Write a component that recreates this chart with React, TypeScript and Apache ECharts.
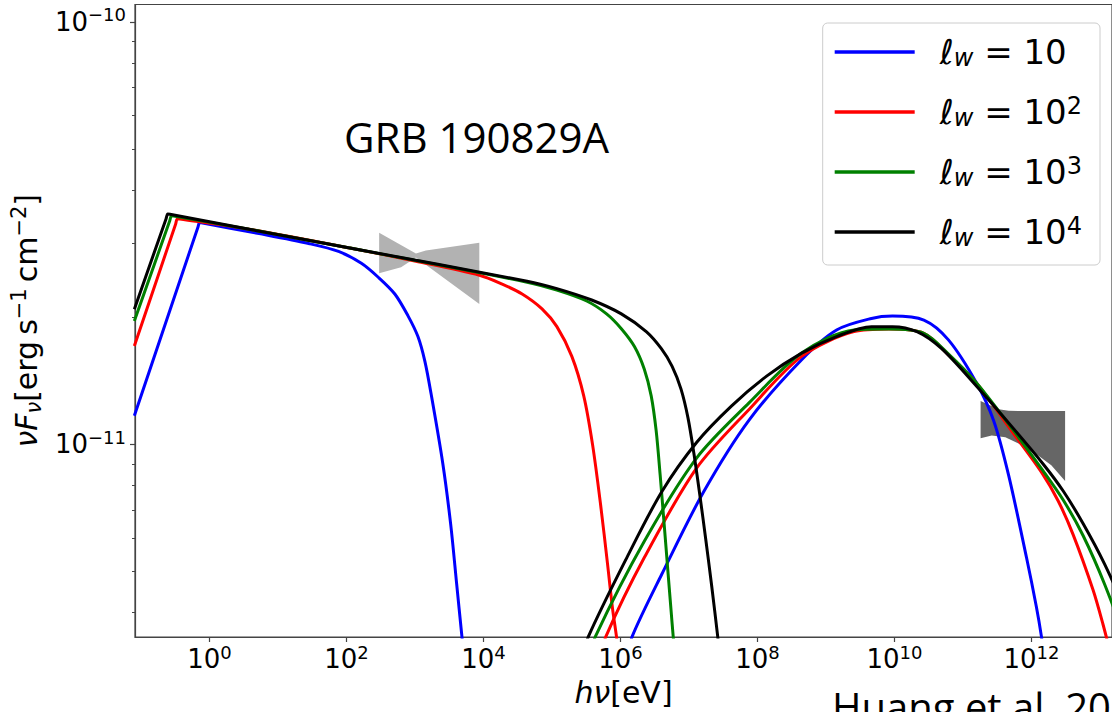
import React, { useEffect, useRef } from 'react';
import * as echarts from 'echarts';

// ---- axis ranges & ticks ----
const xMin = 0.0818;
const xMax = 1.5e13;
const yMin = 3.503e-12;
const yMax = 1.099e-10;

const xTicks = [1, 1e2, 1e4, 1e6, 1e8, 1e10, 1e12];
const yTicks = [1e-11, 1e-10];
const yMinorTicks = [4e-12, 5e-12, 6e-12, 7e-12, 8e-12, 9e-12, 2e-11, 3e-11, 4e-11, 5e-11, 6e-11, 7e-11, 8e-11, 9e-11];

// ---- series meta ----
const seriesNames = ['ℓw = 10', 'ℓw = 10^2', 'ℓw = 10^3', 'ℓw = 10^4'];
const legendExp = ['', '2', '3', '4'];
const seriesColors = ['#0000ff', '#ff0000', '#008000', '#000000'];

// ---- synchrotron components [E (eV), nuFnu (erg s^-1 cm^-2)] ----
const syncBlue: [number, number][] = [
  [0.08, 1.17e-11], [0.68, 3.27e-11], [0.716, 3.35e-11], [0.76, 3.345e-11],
  [5.3, 3.154e-11], [28.1, 2.988e-11], [76.6, 2.862e-11], [165, 2.683e-11],
  [291, 2.487e-11], [508, 2.27e-11], [792, 2.015e-11], [1105, 1.8e-11],
  [1396, 1.573e-11], [1722, 1.316e-11], [2545, 9.03e-12], [3327, 6.46e-12],
  [4064, 4.67e-12], [4797, 3.57e-12], [5129, 3.21e-12],
];
const syncRed: [number, number][] = [
  [0.08, 1.71e-11], [0.32, 3.32e-11], [0.34, 3.42e-11], [0.37, 3.415e-11],
  [3.8, 3.23e-11], [107, 2.92e-11], [1033, 2.713e-11], [8750, 2.514e-11],
  [1.88e4, 2.395e-11], [3.67e4, 2.27e-11], [7.16e4, 2.093e-11], [1.18e5, 1.9e-11],
  [1.95e5, 1.616e-11], [2.91e5, 1.303e-11], [3.93e5, 9.95e-12], [5.13e5, 7.2e-12],
  [6.48e5, 5.21e-12], [7.66e5, 4.09e-12], [8.75e5, 3.51e-12], [9.35e5, 3.17e-12],
];
const syncGreen: [number, number][] = [
  [0.08, 1.96e-11], [0.263, 3.383e-11], [0.279, 3.475e-11], [0.3, 3.47e-11],
  [3.8, 3.23e-11], [107, 2.92e-11], [4.34e4, 2.421e-11], [1.18e5, 2.318e-11],
  [3.21e5, 2.185e-11], [6.27e5, 2.037e-11], [1.03e6, 1.879e-11], [1.6e6, 1.705e-11],
  [2.23e6, 1.507e-11], [2.81e6, 1.303e-11], [3.32e6, 1.078e-11], [3.8e6, 8.46e-12],
  [4.35e6, 6.46e-12], [4.97e6, 4.93e-12], [5.68e6, 3.77e-12], [6.27e6, 3.12e-12],
];
const syncBlack: [number, number][] = [
  [0.08, 2.09e-11], [0.232, 3.417e-11], [0.246, 3.51e-11], [0.265, 3.505e-11],
  [3.8, 3.23e-11], [107, 2.92e-11], [4.34e4, 2.434e-11], [1.18e5, 2.338e-11],
  [3.8e5, 2.197e-11], [1.03e6, 2.037e-11], [2.38e6, 1.849e-11], [3.93e6, 1.687e-11],
  [5.68e6, 1.531e-11], [7.66e6, 1.352e-11], [9.68e6, 1.156e-11], [1.18e7, 9.53e-12],
  [1.44e7, 7.6e-12], [1.76e7, 5.96e-12], [2.15e7, 4.62e-12], [2.63e7, 3.51e-12],
  [2.81e7, 3.17e-12],
];

// ---- inverse-Compton components ----
const icBlue: [number, number][] = [
  [1.35e6, 3.2e-12], [1.48e6, 3.51e-12], [4.01e6, 4.93e-12], [1.64e7, 7.73e-12],
  [7.59e7, 1.144e-11], [4.42e8, 1.587e-11], [1.43e9, 1.866e-11], [4.62e9, 1.987e-11],
  [9.35e9, 2.013e-11], [2.69e10, 1.97e-11], [6.14e10, 1.768e-11], [1.57e11, 1.4e-11],
  [2.81e11, 1.138e-11], [4.64e11, 8.46e-12], [8.47e11, 5.4e-12], [1.18e12, 4.13e-12],
  [1.4e12, 3.51e-12], [1.5e12, 3.2e-12],
];
const icRed: [number, number][] = [
  [5.5e5, 3.2e-12], [6.12e5, 3.51e-12], [2.23e6, 5.4e-12], [1.3e7, 8.8e-12],
  [7.59e7, 1.212e-11], [4.42e8, 1.616e-11], [2.57e9, 1.849e-11], [8.32e9, 1.875e-11],
  [2.69e10, 1.832e-11], [6.27e10, 1.624e-11], [1.57e11, 1.399e-11], [5.48e11, 1.061e-11],
  [1.4e12, 8.6e-12], [2.46e12, 7.35e-12], [4.06e12, 6.12e-12], [7.92e12, 4.53e-12],
  [1.1e13, 3.77e-12], [1.55e13, 3.04e-12],
];
const icGreen: [number, number][] = [
  [3.8e5, 3.2e-12], [4.3e5, 3.51e-12], [2.23e6, 5.9e-12], [1.3e7, 9.3e-12],
  [7.59e7, 1.256e-11], [4.42e8, 1.645e-11], [2.57e9, 1.866e-11], [8.32e9, 1.875e-11],
  [2.69e10, 1.832e-11], [6.27e10, 1.632e-11], [1.57e11, 1.399e-11], [5.48e11, 1.078e-11],
  [1.49e12, 8.65e-12], [2.91e12, 7.39e-12], [5.67e12, 6.09e-12], [1.17e13, 4.67e-12],
  [3.16e13, 3.04e-12],
];
const icBlack: [number, number][] = [
  [3.0e5, 3.2e-12], [3.4e5, 3.51e-12], [1.24e6, 5.4e-12], [4.01e6, 7.73e-12],
  [1.3e7, 1.012e-11], [4.2e7, 1.234e-11], [1.36e8, 1.451e-11], [4.42e8, 1.645e-11],
  [1.43e9, 1.8e-11], [4.62e9, 1.9e-11], [9.35e9, 1.9e-11], [2.13e10, 1.849e-11],
  [4.85e10, 1.687e-11], [1.57e11, 1.375e-11], [5.48e11, 1.09e-11], [1.49e12, 8.98e-12],
  [2.91e12, 7.76e-12], [5.67e12, 6.5e-12], [1.17e13, 5.21e-12], [3.16e13, 3.65e-12],
];

// ---- observational bow-ties (polygon vertices) ----
const bowtieXRT: [number, number][] = [
  [300, 3.17e-11], [1033, 2.83e-11], [1442, 2.877e-11], [8700, 3.0e-11],
  [8700, 2.15e-11], [1033, 2.77e-11], [627, 2.626e-11], [300, 2.54e-11],
];
const bowtieHESS: [number, number][] = [
  [1.81e11, 1.268e-11], [3.33e11, 1.212e-11], [4.64e11, 1.201e-11], [7.16e11, 1.2e-11],
  [3.1e12, 1.2e-11], [3.1e12, 8.19e-12], [1.95e12, 8.93e-12], [1.13e12, 9.53e-12],
  [6.48e11, 1.005e-11], [4.16e11, 1.04e-11], [2.63e11, 1.05e-11], [1.81e11, 1.034e-11],
];

const titleText = 'GRB 190829A';
const creditText = 'Huang et al. 2022';

const syncData = [syncBlue, syncRed, syncGreen, syncBlack];
const icData = [icBlue, icRed, icGreen, icBlack];

const FONT = 'DejaVu Sans';

function expLabel(v: number) {
  const e = Math.round(Math.log10(v));
  const s = e < 0 ? '\u2212' + String(-e) : String(e);
  return `{b|10}{s|${s}}`;
}

const tickRich = {
  b: { fontSize: 26, fontFamily: FONT, color: '#000', lineHeight: 32 },
  s: { fontSize: 18, fontFamily: FONT, color: '#000', lineHeight: 18, verticalAlign: 'top' },
};

export default function App() {
  const ref = useRef<HTMLDivElement>(null);

  useEffect(() => {
    document.body.style.margin = '0';
    if (!ref.current) return;
    const chart = echarts.init(ref.current, undefined, { renderer: 'svg' });

    const bowtieSeries = (pts: [number, number][], color: string) => ({
      type: 'custom',
      silent: true,
      clip: true,
      z: 1,
      data: [pts[0]],
      renderItem: (_params: any, api: any) => {
        const points = pts.map((p) => api.coord(p));
        return { type: 'polygon', shape: { points }, style: { fill: color, stroke: 'none' } };
      },
    });

    const lineSeries: any[] = [];
    for (let i = 0; i < 4; i++) {
      for (const d of [syncData[i], icData[i]]) {
        lineSeries.push({
          type: 'line',
          name: seriesNames[i],
          data: d,
          showSymbol: false,
          symbol: 'none',
          smooth: 0.3,
          clip: true,
          silent: true,
          z: 3,
          color: seriesColors[i],
          lineStyle: { color: seriesColors[i], width: 3 },
        });
      }
    }

    chart.setOption({
      animation: false,
      tooltip: { show: false },
      grid: { left: 135, top: 4.5, width: 984, height: 639, show: true, borderColor: '#444', borderWidth: 1.2, backgroundColor: 'transparent' },
      legend: {
        right: 12,
        top: 23,
        orient: 'vertical',
        data: seriesNames,
        icon: 'rect',
        itemWidth: 80,
        itemHeight: 3.5,
        itemGap: 24,
        padding: [12, 18, 15, 12],
        backgroundColor: '#ffffff',
        borderColor: '#cccccc',
        borderWidth: 1,
        borderRadius: 5,
        selectedMode: false,
        formatter: (name: string) => {
          const i = seriesNames.indexOf(name);
          const p = legendExp[i];
          return `{l|ℓ}{w|w}{n| = 10}` + (p ? `{p|${p}}` : '');
        },
        textStyle: {
          padding: [0, 0, 0, 20],
          rich: {
            l: { fontSize: 34, fontFamily: FONT, fontStyle: 'italic', color: '#000', lineHeight: 36 },
            w: { fontSize: 24, fontFamily: FONT, fontStyle: 'italic', color: '#000', lineHeight: 14, verticalAlign: 'bottom' },
            n: { fontSize: 34, fontFamily: FONT, color: '#000', lineHeight: 36 },
            p: { fontSize: 24, fontFamily: FONT, color: '#000', lineHeight: 20, verticalAlign: 'top' },
          },
        },
      },
      xAxis: {
        type: 'log',
        min: xMin,
        max: xMax,
        name: '{i|hν}{n|[eV]}',
        nameLocation: 'middle',
        nameGap: 40,
        nameTextStyle: {
          rich: {
            i: { fontSize: 30, fontFamily: FONT, fontStyle: 'italic', color: '#000' },
            n: { fontSize: 30, fontFamily: FONT, color: '#000' },
          },
        },
        axisLine: { show: true, lineStyle: { color: '#444', width: 1.2 } },
        axisTick: { show: true, inside: false, length: 5, customValues: xTicks, lineStyle: { color: '#444', width: 1.2 } },
        axisLabel: { show: true, margin: 6, customValues: xTicks, formatter: (v: number) => expLabel(v), rich: tickRich },
        splitLine: { show: false },
        minorTick: { show: false },
      },
      yAxis: [
        {
          type: 'log',
          min: yMin,
          max: yMax,
          name: '{i|νF}{sb|ν}{n|[erg\u2009s}{sp|\u22121}{n|\u2009cm}{sp|\u22122}{n|]}',
          nameLocation: 'middle',
          nameGap: 88,
          nameTextStyle: {
            rich: {
              i: { fontSize: 30, fontFamily: FONT, fontStyle: 'italic', color: '#000', lineHeight: 36 },
              sb: { fontSize: 21, fontFamily: FONT, fontStyle: 'italic', color: '#000', lineHeight: 14, verticalAlign: 'bottom' },
              n: { fontSize: 30, fontFamily: FONT, color: '#000', lineHeight: 36 },
              sp: { fontSize: 21, fontFamily: FONT, color: '#000', lineHeight: 18, verticalAlign: 'top' },
            },
          },
          axisLine: { show: true, lineStyle: { color: '#444', width: 1.2 } },
          axisTick: { show: true, inside: false, length: 5, customValues: yTicks, lineStyle: { color: '#444', width: 1.2 } },
          axisLabel: { show: true, margin: 9, customValues: yTicks, formatter: (v: number) => expLabel(v), rich: tickRich },
          splitLine: { show: false },
          minorTick: { show: false },
        },
        {
          type: 'log',
          min: yMin,
          max: yMax,
          position: 'left',
          axisLine: { show: false },
          axisTick: { show: true, inside: false, length: 3, customValues: yMinorTicks, lineStyle: { color: '#444', width: 1 } },
          axisLabel: { show: false, customValues: [] },
          splitLine: { show: false },
        },
      ],
      graphic: [
        {
          type: 'text',
          left: 344,
          top: 115,
          silent: true,
          style: { text: titleText, font: '42px "Open Sans"', fill: '#000' },
        },
        {
          type: 'text',
          left: 832,
          top: 686,
          silent: true,
          style: { text: creditText, font: '40px "Open Sans"', fill: '#000' },
        },
      ],
      series: [bowtieSeries(bowtieXRT, '#b2b2b2'), bowtieSeries(bowtieHESS, '#666666'), ...lineSeries],
    });

    return () => chart.dispose();
  }, []);

  return <div ref={ref} style={{ position: 'absolute', left: 0, top: 0, width: 1112, height: 712 }} />;
}
